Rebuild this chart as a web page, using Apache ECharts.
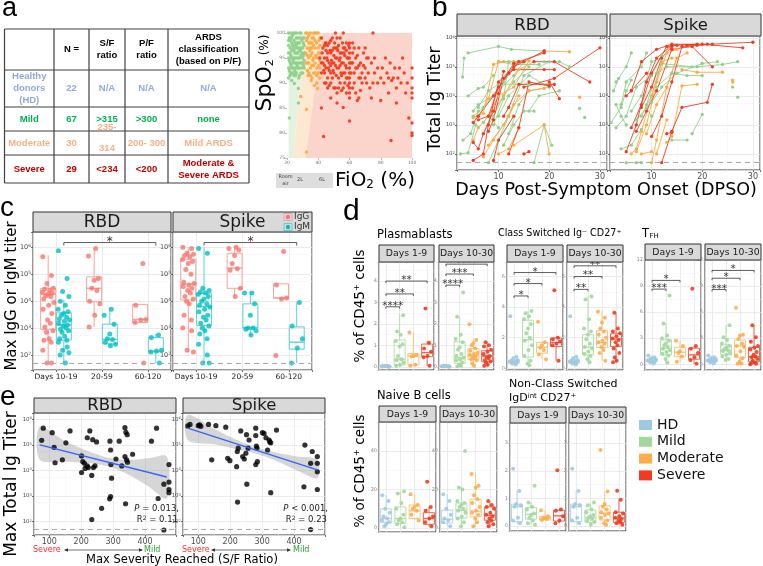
<!DOCTYPE html>
<html><head><meta charset="utf-8">
<script src="https://cdn.jsdelivr.net/npm/echarts@6/dist/echarts.min.js"></script>
<style>html,body{margin:0;padding:0;background:#fff}#c{width:763px;height:566px}</style>
</head><body><div id="c"></div><script>
// ===================== DATA =====================
// ---- panel a: table ----
const tableHeader = ['', 'N =', 'S/F\nratio', 'P/F\nratio', 'ARDS\nclassification\n(based on P/F)'];
const tableRows = [
  ['Healthy\ndonors\n(HD)', '22', 'N/A', 'N/A', 'N/A'],
  ['Mild', '67', '>315', '>300', 'none'],
  ['Moderate', '30', '235-\n314', '200- 300', 'Mild ARDS'],
  ['Severe', '29', '<234', '<200', 'Moderate &\nSevere ARDS']
];
const tableRowColors = ['#8eaadb', '#00b050', '#f4b183', '#c00000'];

// ---- panel a: SpO2 vs FiO2 ----
const sfCutoffs = [315, 235];
const spoMild = [[21,100],[22,99],[23,98],[24,97],[25,96],[26,95],[27,94],[28,93],[29,92],[30,99],[21,96],[22,94],[23,92],[24,100],[25,98],[26,97],[27,99],[28,95],[29,97],[30,94],[31,96],[21,93],[22,97],[23,95],[24,93],[25,100],[26,92],[27,96],[28,98],[29,100],[30,97],[31,99],[21,95],[22,92],[23,99],[24,95],[25,94],[26,99],[27,93],[28,100],[29,94],[30,92],[31,93],[21,91],[23,90.5],[21.5,83],[24.7,89.9],[27.3,88.9],[27.3,86],[21,97.5],[22.5,95.5],[24.5,96.5],[26.5,93.5],[28.5,96.5],[30.5,95.5],[25.5,91.5],[27.5,91],[23.5,97.5],[25,92.5],[22,98.5],[26,100],[29.5,98.5],[21.5,94.5],[23,96.5],[31,97.5],
[21.5,99],[22.5,100],[23.5,99.5],[24.5,98.5],[25.5,97.5],[26.5,98],[27.5,97],[28.5,99],[29.5,96],[30.5,98],[21.5,92.5],[22.5,93.5],[23.5,94],[24.5,91.5],[25.5,93],[26.5,96],[27.5,95],[28.5,94],[29.5,93],[30.5,93.5],[22,96],[24,94.5],[26,94],[28,96.5],[30,95],[23,93],[25,95],[27,98],[29,95.5],[31,94.5],[21,98.5],[22,91.5],[24,92],[26,97.5],[28,91.5]];
const spoMod = [[32,100],[33,99],[34,98],[35,97],[36,96],[37,95],[38,94],[39,93],[40,92],[41,99],[32,96],[33,94],[34,92],[35,100],[36,98],[37,99],[38,97],[39,100],[40,95],[41,96],[33,97],[34,95],[35,93],[36,91],[37,92],[38,100],[39,98],[40,97],[41,93],[42,99],[32.5,98.5],[34.5,96.5],[36.5,94.5],[38.5,95.5],[40.5,98.5],[33.5,91.5],[35.5,90.5],[37.5,89.5],[39.6,88.9],[28.8,87.3],[32.5,84.7],[32.5,76.2],[39,90],[41,91],[33,100],[37,97.5],[35,95.5],[40,100],
[32,94],[33,92.5],[34,99.5],[35,98],[36,93.5],[37,100],[38,92],[39,95],[40,93.5],[41,97.5],[34,94],[36,99],[38,98.5],[40,96],[33,95.5],[35,91.5],[37,93.5],[39,91.5],[41,94.5],[36,97]];
const spoSev = [[42,99],[43,97],[44,95],[45,93],[46,91],[47,98],[48,96],[49,94],[50,92],[51,97],[52,95],[53,93],[54,99],[55,96],[56,94],[57,92],[58,98],[59,95],[60,97],[60,96],[60,95],[60,94],[60,93],[60,92],[60,91],[60,90],[60,89],[60,88],[60,87],[60,98],
[43,94],[44,92],[45,98],[46,96],[47,94],[48,92],[49,99],[50,97],[51,95],[52,93],[53,91],[54,96],[55,94],[56,92],[57,97],[58,93],[59,91],[61,94],[62,96],[63,92],
[42,92],[44,90],[46,89],[48,90],[50,89],[52,88],[54,90],[56,89],[58,88],[64,95],[65,93],[66,91],[67,94],[68,92],[69,96],[70,93],[70,91],[72,92],[74,94],[75,90],
[45,96.5],[47,92.5],[49,96.5],[51,93.5],[53,97.5],[55,91.5],[57,95.5],[41,95],[62,89],[64,88],[66,87],[68,90],[71,95],[73,89],[76,92],[78,93],[80,91],[82,90],[84,92],[86,94],[88,91],[90,89],[92,93],[95,92],[97,90],
[100,93],[100,91],[100,89],[100,88],[100,87],[100,82],[100,80],[100,79.5],[98,83],
[43.4,79.3],[60,82.4],[86.6,78.5],[56,85.1],[52,86],[42,85],[48,87],[65,86.5],[74,87],[80,86.5],[85,88],[90,86],[51,100],[56,100],[75,100],[44,97.5],[46,94.5],[50,95.5],[54,93.5],[58,96.5],[62,98],[66,97],[70,97],[48,98.5],[52,99],
[42.5,96],[43.5,92.5],[44.5,98],[45.5,95],[46.5,93],[47.5,96.5],[48.5,94.5],[49.5,92.5],[50.5,98],[51.5,91.5],[52.5,96.5],[53.5,94.5],[54.5,92],[55.5,98],[56.5,96],[57.5,93.5],[58.5,95],[59.5,97.5],[61,92],[62,94],[63,97],[64,93],[65,95.5],[66,93.5],[67,91],[44,93.5],[46,97.5],[48,93.5],[50,94],[52,97],[54,95],[56,97],[58,91],[42,94],[45,90],[47,89.5],[49,91],[51,89],[53,89],[55,88.5],[57,90],[59,89.5],[63,90],[67,88.5],[69,93.5],[71,90],[72,95],[76,95],[78,90],[81,93],[83,95],[85,91],[87,90.5],[89,93],[91,91],[93,90],[94,95],[96,88]];

// ---- panel b: trajectories [day, titer] ----
const bRbdMild = [
 [[4,3e5],[10,5e5],[12.5,4e5],[19,3.5e5]], [[2.9,4.5e4],[3.2,2e5]], [[2.5,100],[4,110],[5.5,1e3]],
 [[4,1e4],[6,1.8e4],[7,2e4],[9,5e4]], [[5,2e3],[7,4e3],[11,3e4],[14,1.5e5]],
 [[6,4e3],[8,1.5e4],[10,2.5e4],[16,2.5e4],[21,2.5e4]], [[7,500],[9,2e3],[11,1e4],[13,3e4],[16,1e5]],
 [[8,50],[10,300],[12,2e3],[15,5e4],[20,1.5e5]], [[9,1e3],[11,8e3],[12,1.5e5],[14,1.5e5]],
 [[10,2e3],[12,1e4],[16,5e4],[20,2e4]], [[11,200],[13,1e3],[15,3e3],[17,3e3]],
 [[17,50],[19,1e3],[20.5,200]], [[12,500],[14,5e3],[16,1.5e4],[20,2e4]],
 [[19,1.5e5],[22,1.5e5],[24,1e5]], [[5,3e3],[6,5e3],[9,1e4],[13,5e4],[15,1.5e5]],
 [[3,300],[4.5,500],[6,3e3]], [[16,3e3],[18,1e4],[22,1.5e4]], [[10,1.5e5],[13,1.2e5],[18,1.2e5]],
 [[26,3.7e3]], [[27,1.8e3]], [[7,1.2e3],[8,2e3],[10,800]]
];
const bRbdModerate = [
 [[5,1.8e3],[7,2.5e3],[9,1.2e5],[11,1.5e5],[15,1.5e5]], [[6,2e3],[8,8e3],[10,1.5e5],[13,1.5e5]],
 [[7,80],[9,300],[12,2e3],[14,1e4]], [[5,300],[6,800],[8,2e3],[10,1e4],[13,2e4],[16,1.6e5]],
 [[8,200],[11,1e3],[13,5e3],[16,1.5e4],[19,1.8e4]], [[13,200],[19,1e3],[20,100]],
 [[19,3.5e5],[24,3.3e5]], [[10,100],[12,150],[14,800]], [[9,3e3],[11,1e4],[14,8e4],[17,1.5e5]], [[26,9e3]]
];
const bRbdSevere = [
 [[5,1.2e3],[6,2e3],[9,1e4],[13,1.3e5],[15,1.5e5]], [[5,250],[6,150],[7,500],[9,3e3],[10,1.2e4],[11,7e4]],
 [[5,60],[7,100],[8,1e3],[10,3e4],[13,1e5],[19,3.5e5]], [[6,1.5e3],[8,2e3],[10,2e4],[12,6e4],[14,1.5e5],[19,3e5]],
 [[8,600],[9,1.5e3],[11,4e4],[13,8e4],[19,8e4],[21,8e4]], [[11,2e3],[12,4e3],[14,2.5e4],[21,2.5e4]],
 [[12,100],[14,800],[16,3e4],[20,2.2e4]], [[15,100],[16,120]], [[17,1.5e5],[21,1.5e5],[28,3e4]],
 [[15,2e4],[21,4e4],[30,4.5e5]], [[20,3e4],[22,8e3]], [[9,60],[10,300],[13,2e3]]
];
const bSpikeMild = [
 [[3,5e3],[4,2e3],[5,1e3]], [[2,1.2e3],[4,4e3],[5,1.5e4],[6,3.5e4]], [[3,3e4],[5,1e5],[6,3e5]],
 [[4,5e3],[5,3e4],[8,1e5],[9,3e5]], [[3,800],[5,2e3],[7,2e4],[10,5e4],[12,2.5e5]], [[4,150],[6,200],[8,700]],
 [[5,50],[7,50],[8,50]], [[8,2e3],[10,1e4],[12,1.3e5],[18,1e5]], [[9,5e3],[11,6e4],[13,1e5],[19,1e5],[24,1.2e5],[27,1.5e5]],
 [[11,2e4],[14,6e4],[17,5e4],[20,5e4]], [[14,300],[17,300]], [[18,500],[20,2.3e3]],
 [[6,3e3],[8,1e4],[10,1.5e5],[12,2e5]], [[10,6e3],[12,2e4],[15,6e4],[20,1.3e5],[23,1.5e5]],
 [[26,2e4]], [[27,9e3]], [[2.5,1.5e4],[3.5,4e4]], [[7,1.5e3],[9,4e3],[10,2e3]]
];
const bSpikeModerate = [
 [[6,100],[7,150],[8,600],[10,1e4],[12,1.5e5],[14,2e5]], [[7,120],[9,1e3],[11,3e4],[13,3e5],[15,4e5]],
 [[10,50],[11,300],[13,2e4],[15,2e5],[17,3e5]], [[9,500],[11,5e3],[13,2e4],[15,2e5]],
 [[13,250],[14,400],[16,2.2e4],[19,2.5e4]], [[16,8e4],[19,6.5e4],[24,6.5e4]],
 [[26,3.5e4]], [[26,3e4]], [[11,100],[13,1.5e3]], [[8,100],[10,120]]
];
const bSpikeSevere = [
 [[5,120],[7,1e3],[9,3e4],[11,2e5],[14,5.5e5],[19,6e5]], [[6,800],[8,5e3],[10,6e4],[13,5e5],[15,5.5e5]],
 [[6,1.5e4],[8,1.5e5],[11,4e5],[14,6e5],[21,6e5]], [[7,600],[9,3e3],[11,1.5e4],[14,4e5]],
 [[5,1e4],[6,1.5e4],[9,6e4]], [[10,400],[12,2e3],[14,3e4],[16,5e5],[19,5.5e5],[22,6e5]],
 [[12,50],[14,600],[16,4e3],[21,6e3],[22,2.5e4]], [[13,500],[14,550]], [[20,6e5],[28,4.5e5]],
 [[14,4e5],[18,5e5],[22,1e5]], [[17,5.5e5],[30,7e5]], [[8,4e3],[10,2e4],[12,2e5],[14,5e5]]
];
const LOD = 50;

// ---- panel c ----
const cGroups = ['Days 10-19', '20-59', '60-120'];
const cRbdIgG = [[4.5e5,9e4,4.5e4,3e4,2.8e4,2.5e4,2.2e4,2e4,1.8e4,1.6e4,1.5e4,1.2e4,9e3,7e3,5e3,3.5e3,2e3,1.5e3,1.1e3,8e2,7e2,4e2,3.5e2,3e2,1.5e2,50,50],
  [9e5,4.8e5,7e4,6e4,3e4,2.5e4,1e4,8e3,3e3,1.1e3], [2.5e5,7e3,2.1e3,2e3,1.6e3,50]];
const cRbdIgM = [[7.5e5,7e4,2.3e4,1.5e4,1e4,7e3,5e3,4e3,3.5e3,3e3,2.5e3,2.2e3,2e3,1.8e3,1.5e3,1.3e3,1.2e3,1e3,900,800,700,500,400,350,300,200,150,120,100,50],
  [5e3,3e3,1.4e3,600,400,380,300,250,220], [550,450,150,140,130,50]];
const cSpikeIgG = [[1e6,9e5,6e5,5.5e5,5e5,4.5e5,3.5e5,3e5,2.5e5,1.5e5,1e5,5e4,4.5e4,4e4,3.5e4,3e4,2.5e4,2e4,1.5e4,1.2e4,1e4,8e3,3e3,2e3,1e3,800,150,130],
  [1e6,9e5,8e5,5e5,2.5e5,1.6e5,1.4e5,3e4,1.5e4], [7e5,4e4,1.3e4,1.2e4,95]];
const cSpikeIgM = [[9e5,6e5,3e4,2.5e4,2.2e4,2e4,1.8e4,1.5e4,1.2e4,1e4,8e3,7e3,6e3,5e3,4e3,3e3,2.5e3,2e3,1.5e3,1.2e3,1e3,800,600,400,250,100,50,50],
  [2e4,2e4,8e3,3e3,1e3,1e3,900,800,550], [9e3,1.2e3,400,180,50]];
// box stats: [min, q1, median, q3, max]
const cRbdIgGBox = [[50,900,1.8e4,3e4,5e5],[1.1e3,9.5e3,3e4,8e4,9e5],[1.6e3,1.6e3,2.1e3,7.6e3,7.6e3]];
const cRbdIgMBox = [[50,360,1.3e3,3.7e3,1.1e4],[215,260,380,1.4e3,5.9e3],[50,130,140,440,600]];
const cSpikeIgGBox = [[130,1.1e4,4.3e4,3.6e5,1e6],[1.5e4,3e4,1.7e5,6e5,1e6],[1.2e4,1.3e4,1.3e4,4.4e4,4.4e4]];
const cSpikeIgMBox = [[50,1.26e3,6.3e3,1.9e4,1e6],[520,1e3,1.05e3,7.9e3,2.2e4],[50,165,300,1.1e3,9e3]];
const cSig = [[1.17, 3.17, 1.5e6, '*']];

// ---- panel d ----
const dGroups = ['HD', 'Mild', 'Moderate', 'Severe'];
const pbD1 = [[0.02,0.01,0.03,0.0,0.02,0.04,0.01,0.03,0.02,0.05],[2.4,1.65,1.5,1.2,1.05,0.95,0.5,0.35,0.3,0.2,0.1,0.05],[1.6,0.55,0.5,0.48,0.1,0.05],[2.72,1.12,0.85,0.7,0.5,0.45,0.05]];
const pbD1Box = [[0,0.01,0.02,0.03,0.05],[0,0.08,0.36,1.25,2.47],[0.05,0.08,0.5,0.62,1.6],[0.05,0.47,0.66,1.06,1.17]];
const pbD1Sig = [[1,2,2.8,'****'],[1,3,3.4,'**'],[1,4,4.0,'**']];
const pbD2 = [[0.02,0.01,0.03,0.0,0.02,0.04,0.01,0.03,0.02,0.05],[3.47,2.33,1.5,1.3,1.15,0.9,0.8,0.6,0.5,0.42,0.35,0.3,0.2,0.1,0.05,0.02],[1.98,1.25,1.1,1.0,0.85,0.75,0.65,0.6,0.55,0.5,0.45,0.4,0.35,0.3,0.15,0.05],[1.15,1.0,0.95,0.8,0.7,0.6,0.5,0.45,0.4,0.3,0.25,0.2,0.1,0.05]];
const pbD2Box = [[0,0.01,0.02,0.03,0.05],[0,0.16,0.42,1.17,2.33],[0.03,0.34,0.55,0.85,1.28],[0,0.23,0.5,0.75,1.17]];
const pbD2Sig = [[1,2,3.81,'****'],[1,3,4.33,'***'],[1,4,4.79,'****']];
const csD1 = [[3.4,0.75,0.65,0.55,0.5,0.45,0.42,0.38,0.35,0.3,0.25],[3.75,3.6,3.4,3.2,2.9,2.6,2.3,2.0,1.8,1.5,1.2,0.8,0.5,0.3,0.2],[3.05,1.7,1.5,1.35,1.2,0.9,0.6],[5.1,2.0,1.9,1.75,1.6,1.5,0.5]];
const csD1Box = [[0.25,0.35,0.45,0.55,0.75],[0.2,0.73,1.87,3.14,3.75],[0.6,0.99,1.38,1.69,1.75],[0.5,1.43,1.69,1.98,2.05]];
const csD1Sig = [[1,2,4.73,'*'],[1,3,5.54,'*'],[1,4,6.26,'*']];
const csD2 = [[3.4,0.75,0.65,0.55,0.5,0.45,0.42,0.38,0.35,0.3,0.25],[4.7,4.5,3.2,2.6,2.4,2.2,1.9,1.6,1.4,1.3,1.1,0.95,0.8,0.6,0.4],[3.7,3.3,3.0,2.6,2.4,2.2,2.0,1.8,1.7,1.6,1.4,1.2,1.0,0.5],[3.64,2.6,2.4,2.3,2.1,1.95,1.85,1.7,1.5,1.3,1.0,0.7,0.5,0.4]];
const csD2Box = [[0.25,0.35,0.45,0.55,0.75],[0.4,0.88,1.38,2.2,4.7],[0.5,1.36,1.69,2.46,3.74],[0.4,1.43,1.91,2.26,3.64]];
const csD2Sig = [[1,2,5.16,'**'],[1,3,6.0,'**'],[1,4,6.7,'**']];
const tfD1 = [[1.0,0.8,0.7,0.6,0.5,0.45,0.4,0.35,0.3,0.2,0.1],[7.9,4.7,3.3,3.0,2.7,2.4,2.2,2.0,1.8,1.6,1.4,1.2,1.0,0.6,0.2],[2.7,2.1,1.5,1.3,0.9,0.3],[8.7,2.1,1.8,1.3,0.8,0.5,0.05]];
const tfD1Box = [[0.1,0.3,0.45,0.6,1.0],[0.1,1.08,1.85,2.8,4.7],[0.3,0.88,1.38,1.96,2.7],[0.05,0.58,1.08,1.85,2.1]];
const tfD1Sig = [[1,2,8.65,'***'],[1,3,9.65,'*']];
const tfD2 = [[1.0,0.8,0.7,0.6,0.5,0.45,0.4,0.35,0.3,0.2,0.1],[4.5,3.1,2.8,2.4,2.1,1.9,1.7,1.6,1.5,1.3,1.1,0.9,0.6,0.5],[6.5,3.4,3.3,2.9,2.4,2.1,2.0,1.5,1.0,0.7,0.3,0.1,0.05],[4.5,3.1,2.6,2.1,1.9,1.7,1.4,1.1,0.9,0.8,0.6,0.4,0.2,0.1,0.05,0.0]];
const tfD2Box = [[0.1,0.3,0.45,0.6,1.0],[0.5,1.08,1.65,2.23,4.5],[0.05,0.8,2.1,2.8,3.4],[0,0.3,0.88,1.96,4.5]];
const tfD2Sig = [[1,2,8.6,'***'],[1,3,9.9,'*'],[1,4,10.8,'*']];
const nbD1 = [[17,14,10,8,6,5,4,3,2,1],[19,18,13,10,7,5,4,3,2,0.5],[17.5,12,11,10,9,7,4],[24,11,9,6,5,3,1]];
const nbD1Box = [[1,3,5,10,17],[0.5,2.5,5,11,19],[4,5,9,12,17.5],[1,2,5,8,11]];
const nbD2 = [[17.5,14,10,7,5,4,3,1],[40,21,20,14,13,12,11,10,9,8,6,5,3,1],[28,22,21,17,15,13,11,9,8,7,5,3,1],[14,12,11,10,8,7,6,5,4,3,2,1]];
const nbD2Box = [[1,2.6,4.6,9.3,17.5],[1,5.2,9.3,13,21.4],[1,5.9,8.8,15,28],[1,4.1,6.7,11,14]];
const ncsD1 = [[2.07,1.27,0.8,0.75,0.7,0.3,0.2,0.1],[1.46,0.85,0.7,0.6,0.45,0.4,0.3,0.2,0.1,0.05],[0.57,0.35,0.3,0.28,0.25,0.22],[2.02,0.6,0.55,0.35,0.2,0.1]];
const ncsD1Box = [[0.1,0.16,0.7,0.79,1.27],[0.05,0.25,0.42,0.67,0.85],[0.22,0.22,0.28,0.35,0.57],[0.1,0.18,0.37,0.57,0.6]];
const ncsD2 = [[2.07,1.27,0.8,0.75,0.7,0.3,0.2,0.1],[0.85,0.75,0.6,0.5,0.4,0.35,0.3,0.25,0.2,0.15,0.05],[2.75,1.25,0.8,0.7,0.6,0.5,0.45,0.4,0.3,0.2,0.1,0.05],[1.28,0.95,0.5,0.45,0.35,0.3,0.25,0.2,0.15,0.1,0.05]];
const ncsD2Box = [[0.1,0.16,0.7,0.79,1.27],[0,0.13,0.3,0.58,0.85],[0.05,0.22,0.46,0.73,1.25],[0.05,0.13,0.28,0.5,0.95]];

// ---- panel e: [S/F ratio, max total Ig titer] ----
const eRbd = [[76,1.5e5],[81,4.5e5],[109,3e5],[115,8e4],[118,2e4],[141,2.6e4],[152,1.2e5],[165,3.5e5],[201,3.7e4],[201,8.3e3],[205,2.2e4],[210,1.9e4],[212,1.2e4],[219,1.5e4],[222,1.3e4],[219,1.9e5],[227,3.5e5],[233,6.4e3],[236,1.6e5],[238,1.3e4],[243,1.5e4],[248,1.3e5],[233,1.2e2],[264,3.3e2],[290,1.4e5],[292,6.3e4],[293,1.7e4],[295,5e3],[292,9.5e2],[289,7.8e2],[309,2.8e4],[319,1.4e5],[327,1.5e4],[337,4.7e5],[340,3.1e5],[344,2.5e5],[337,3.5e4],[342,2.6e4],[345,2.1e4],[339,5e2],[361,4.3e4],[420,1.4e5],[436,4.5e5],[441,8e2],[459,2.9e3],[459,47],[475,1.7e4],[475,3.5e3],[475,1.8e3],[475,1.35e3]];
const eSpike = [[67,5.5e5],[74,6.3e5],[100,5.6e5],[104,6e5],[108,5.3e5],[132,6.3e5],[155,5.6e5],[186,4.9e5],[142,2.6e4],[192,3e4],[199,2.4e4],[220,1.4e4],[222,5.5e4],[225,7.4e4],[233,3.5e5],[239,3.5e4],[244,2.8e4],[249,4.7e4],[251,2.5e5],[256,7.4e4],[259,1.55e5],[252,2.9e3],[223,5.8e2],[280,4.5e5],[280,2.3e5],[282,9e4],[284,7.5e4],[280,1.7e4],[285,2.2e4],[301,3e5],[306,2.8e5],[312,1.9e5],[322,1.55e5],[324,1.3e5],[327,1.2e5],[327,1.35e3],[317,6.3e4],[345,3.8e5],[434,9.8e4],[431,2.3e3],[452,1.9e4],[452,49],[457,5.5e4],[473,3.5e4],[473,1.9e4],[473,8.9e3],[473,1.8e3]];
const eRbdFit = [[70,1e5],[468,5.5e3]];
const eSpikeFit = [[67,4.5e5],[473,1.05e4]];
const eRbdBand = [[70,2.6e4,5.1e5],[150,2.2e4,1.4e5],[230,1.9e4,5.2e4],[290,1.35e4,3.1e4],[350,6.6e3,2.6e4],[410,2.4e3,3e4],[468,8e2,3.5e4]];
const eSpikeBand = [[67,1.55e5,1.48e6],[150,1.05e5,4.2e5],[230,6.3e4,1.4e5],[290,4.2e4,7.4e4],[350,2.2e4,4.8e4],[410,1e4,3.5e4],[473,5e3,2.6e4]];
const eStats = [['P = 0.013,', 'R2 = 0.11'], ['P < 0.001,', 'R2 = 0.23']];

// ===================== STYLE =====================
const FF = 'DejaVu Sans';
const TF = 'Liberation Sans';
const C_MILD = '#8fd18a', C_MOD = '#fbab45', C_SEV = '#ee3d22';
const D_COL = ['#9ecae1', '#a1d99b', '#fdae4b', '#f03b20'];
const D_BOX = ['#b3d6ea', '#b4e0ad', '#fdc383', '#f26650'];
const C_IGG = '#f8766d', C_IGM = '#00bfc4';
const JIT = [-0.9,0.55,-0.2,0.85,-0.6,0.25,-0.95,0.7,0.0,-0.4,0.45,-0.75,0.95,0.1,-0.85,0.6,-0.1,0.35,-0.55,0.8,-0.3,0.15,-0.7,0.5];

const grids = [], xAxis = [], yAxis = [], series = [], graphic = [];
function merge(a, b) {
  const o = Object.assign({}, a);
  for (const k in b) {
    if (b[k] && typeof b[k] === 'object' && !Array.isArray(b[k]) && a[k] && typeof a[k] === 'object' && !Array.isArray(a[k]) && typeof b[k] !== 'function') o[k] = merge(a[k], b[k]);
    else o[k] = b[k];
  }
  return o;
}
const stepFmt = st => v => (Math.abs(v / st - Math.round(v / st)) < 1e-6 ? String(Math.round(v * 1000) / 1000) : '');
function logFmt(v) { const l = Math.log10(v), r = Math.round(l); return Math.abs(l - r) < 1e-4 ? '{b|10}{s|' + r + '}' : ''; }
function linAxis(min, max, sn, st, o) {
  return merge({
    type: 'value', min, max, splitNumber: sn,
    axisLine: { show: false },
    axisTick: { show: true, length: 2, lineStyle: { color: '#333', width: 0.7 } },
    axisLabel: { show: true, fontSize: 8, color: '#4d4d4d', fontFamily: FF, margin: 2, formatter: stepFmt(st) },
    splitLine: { show: true, lineStyle: { color: '#e6e6e6', width: 0.8 } },
    minorTick: { show: false, splitNumber: 2 },
    minorSplitLine: { show: false, lineStyle: { color: '#f3f3f3', width: 0.5 } }
  }, o || {});
}
function logAxis(min, max, fs, o) {
  return merge({
    type: 'log', logBase: 10, min, max,
    axisLine: { show: false },
    axisTick: { show: true, length: 2, lineStyle: { color: '#333', width: 0.7 } },
    axisLabel: { show: true, color: '#4d4d4d', fontFamily: FF, margin: 2, formatter: logFmt,
      rich: { b: { fontSize: fs, color: '#4d4d4d', fontFamily: FF, verticalAlign: 'bottom' }, s: { fontSize: fs * 0.68, color: '#4d4d4d', fontFamily: FF, verticalAlign: 'top' } } },
    splitLine: { show: true, lineStyle: { color: '#e6e6e6', width: 0.8 } },
    minorTick: { show: false, splitNumber: 2 },
    minorSplitLine: { show: true, lineStyle: { color: '#f3f3f3', width: 0.5 } }
  }, o || {});
}
function addGrid(left, top, width, height, xa, ya, show) {
  const i = grids.length;
  const sh = show !== false;
  grids.push({ left, top, width, height, show: sh, borderColor: '#333', borderWidth: 1, backgroundColor: sh ? '#fff' : 'transparent', containLabel: false });
  xa.gridIndex = i; ya.gridIndex = i;
  xAxis.push(xa); yAxis.push(ya);
  return i;
}
function lodLine(y) {
  return { silent: true, symbol: 'none', animation: false, label: { show: false }, lineStyle: { color: '#ababab', type: [5, 4], width: 1 }, data: [{ yAxis: y }] };
}
function boxSeries(gi, data, stroke, halfW) {
  return { type: 'custom', xAxisIndex: gi, yAxisIndex: gi, z: 3, silent: true, data,
    renderItem: function (params, api) {
      const x = api.value(0);
      const c = d => api.coord([x, api.value(d)]);
      const pMin = c(1), pQ1 = c(2), pMed = c(3), pQ3 = c(4), pMax = c(5);
      const cx = pMin[0];
      const ls = { stroke, lineWidth: 1, fill: null };
      return { type: 'group', children: [
        { type: 'line', shape: { x1: cx, y1: pMin[1], x2: cx, y2: pQ1[1] }, style: ls },
        { type: 'line', shape: { x1: cx, y1: pQ3[1], x2: cx, y2: pMax[1] }, style: ls },
        { type: 'rect', shape: { x: cx - halfW, y: pQ3[1], width: 2 * halfW, height: Math.max(0.5, pQ1[1] - pQ3[1]) }, style: { stroke, fill: 'rgba(255,255,255,0)', lineWidth: 1 } },
        { type: 'line', shape: { x1: cx - halfW, y1: pMed[1], x2: cx + halfW, y2: pMed[1] }, style: { stroke, lineWidth: 1.4 } }
      ] };
    } };
}
function sigSeries(gi, sig, tick, fs) {
  return { type: 'custom', xAxisIndex: gi, yAxisIndex: gi, z: 6, silent: true, data: sig.map(s => [s[0], s[1], s[2]]),
    renderItem: function (params, api) {
      const p1 = api.coord([api.value(0), api.value(2)]), p2 = api.coord([api.value(1), api.value(2)]);
      return { type: 'group', children: [
        { type: 'polyline', shape: { points: [[p1[0], p1[1] + tick], [p1[0], p1[1]], [p2[0], p2[1]], [p2[0], p2[1] + tick]] }, style: { stroke: '#333', lineWidth: 0.8, fill: null } },
        { type: 'text', x: (p1[0] + p2[0]) / 2, y: p1[1] + fs * 0.45, style: { text: sig[params.dataIndex][3], fill: '#333', fontSize: fs, fontFamily: FF, align: 'center', verticalAlign: 'bottom', textAlign: 'center', textVerticalAlign: 'bottom' } }
      ] };
    } };
}
function T(x, y, text, st, extra) {
  graphic.push(Object.assign({ type: 'text', x, y, silent: true, z: 50,
    style: Object.assign({ text, fill: '#000', fontSize: 10, fontFamily: FF, align: 'center', verticalAlign: 'middle' }, st || {}) }, extra || {}));
}
function R(x, y, w, h, st) { graphic.push({ type: 'rect', silent: true, z: 40, shape: { x, y, width: w, height: h }, style: st }); }
function L(x1, y1, x2, y2, st) { graphic.push({ type: 'line', silent: true, z: 45, shape: { x1, y1, x2, y2 }, style: st }); }
function strip(x, y, w, h, text, fs) {
  R(x, y, w, h, { fill: '#d9d9d9', stroke: '#333', lineWidth: 1 });
  T(x + w / 2, y + h / 2 + 0.5, text, { fontSize: fs, fill: '#1a1a1a' });
}

// ===================== PANEL a: table =====================
const TX = [4.5, 54, 89, 125, 168, 249], TY = [29, 70, 107, 131, 155, 183];
const tbFont = { fontFamily: TF, fontWeight: 'bold', fontSize: 9.5, lineHeight: 12 };
tableHeader.forEach((h, c) => { if (h) T((TX[c] + TX[c + 1]) / 2, (TY[0] + TY[1]) / 2, h, Object.assign({}, tbFont, { lineHeight: c === 2 || c === 3 ? 12.7 : 12 })); });
tableRows.forEach((row, r) => {
  row.forEach((cell, c) => {
    let y = (TY[r + 1] + TY[r + 2]) / 2, lh = 12;
    if (r === 2 && c === 2) { y = 137.5; lh = 21; }
    T((TX[c] + TX[c + 1]) / 2, y, cell, Object.assign({}, tbFont, { fill: tableRowColors[r], lineHeight: lh }));
  });
});
TX.forEach(x => L(x, TY[0], x, TY[5], { stroke: '#404040', lineWidth: 1.2 }));
TY.forEach(y => L(TX[0], y, TX[5], y, { stroke: '#404040', lineWidth: 1.2 }));
T(2, 9, 'a', { fontSize: 27, fontFamily: TF, align: 'left' });

// ===================== PANEL a: SpO2 =====================
const gS = addGrid(287, 33, 125, 125,
  linAxis(20, 100, 4, 20, { splitLine: { show: false }, axisTick: { length: 2, lineStyle: { color: '#999' } }, axisLabel: { fontSize: 4.5, color: '#777', margin: 2 } }),
  linAxis(75, 100, 5, 5, { splitLine: { show: false }, axisTick: { length: 2, lineStyle: { color: '#999' } }, axisLabel: { fontSize: 4.5, color: '#777', margin: 2 } }), false);
const spoRegions = [
  { fill: '#e4f3e1', pts: [[21, 75], [21, 100], [100 * 100 / sfCutoffs[0], 100], [75 * 100 / sfCutoffs[0], 75]] },
  { fill: '#fde8d2', pts: [[75 * 100 / sfCutoffs[0], 75], [100 * 100 / sfCutoffs[0], 100], [100 * 100 / sfCutoffs[1], 100], [75 * 100 / sfCutoffs[1], 75]] },
  { fill: '#fbd4cb', pts: [[75 * 100 / sfCutoffs[1], 75], [100 * 100 / sfCutoffs[1], 100], [100, 100], [100, 75]] }
];
series.push({ type: 'custom', xAxisIndex: gS, yAxisIndex: gS, z: 1, silent: true, data: spoRegions.map((r, i) => [i]),
  renderItem: function (params, api) {
    const reg = spoRegions[params.dataIndex];
    return { type: 'polygon', shape: { points: reg.pts.map(p => api.coord(p)) }, style: { fill: reg.fill } };
  } });
[[spoMild, C_MILD], [spoMod, C_MOD], [spoSev, '#f23c1c']].forEach(([d, col]) => series.push({ type: 'scatter', xAxisIndex: gS, yAxisIndex: gS, data: d, symbolSize: 3.4, itemStyle: { color: col, opacity: 0.95 }, z: 3, silent: true }));
T(265, 73, '{a|SpO}{b|2}{c| (%)}', { rich: { a: { fontSize: 22, fontFamily: FF }, b: { fontSize: 11, fontFamily: FF, verticalAlign: 'bottom', padding: [0, 0, 0, 0] }, c: { fontSize: 12, fontFamily: FF } } }, { rotation: Math.PI / 2 });
T(375, 181, '{a|FiO}{b|2}{a| (%)}', { rich: { a: { fontSize: 20, fontFamily: FF }, b: { fontSize: 12, fontFamily: FF, verticalAlign: 'bottom' } } });
R(276, 173, 57, 15, { fill: '#dedede', stroke: null });
T(285.5, 176.5, 'Room', { fontSize: 5, fill: '#444' });
T(285.5, 183.5, 'air', { fontSize: 5, fill: '#444' });
T(300, 180, '2L', { fontSize: 5, fill: '#444' });
T(322, 180, '6L', { fontSize: 5, fill: '#444' });

// ===================== PANEL b =====================
const bSpecs = [
  { left: 457, w: 150, name: 'RBD', sets: [[bRbdMild, C_MILD], [bRbdModerate, C_MOD], [bRbdSevere, C_SEV]] },
  { left: 610, w: 151, name: 'Spike', sets: [[bSpikeMild, C_MILD], [bSpikeModerate, C_MOD], [bSpikeSevere, C_SEV]] }
];
bSpecs.forEach(s => {
  const gi = addGrid(s.left, 36, s.w, 134,
    linAxis(1.8, 31.4, 3, 10, { axisLabel: { fontSize: 8, color: '#4d4d4d', margin: 3 }, minorSplitLine: { show: true } }),
    logAxis(28, 1.15e6, 5.5));
  let first = true;
  s.sets.forEach(([list, col]) => list.forEach(tr => {
    const ser = { type: 'line', xAxisIndex: gi, yAxisIndex: gi, data: tr, symbol: 'circle', symbolSize: 3.3, showSymbol: true,
      lineStyle: { width: 1, color: col, opacity: 0.9 }, itemStyle: { color: col }, z: 3, silent: true };
    if (first) { ser.markLine = lodLine(LOD); first = false; }
    series.push(ser);
  }));
  strip(s.left, 14, s.w, 22, s.name, 16.5);
});
T(441, 8, 'b', { fontSize: 28, fontFamily: TF, align: 'left' }, { x: 432 });
T(436, 99, 'Total Ig Titer', { fontSize: 17 }, { rotation: Math.PI / 2 });
T(606, 190, 'Days Post-Symptom Onset (DPSO)', { fontSize: 17.5 });

// ===================== PANEL c =====================
const cSpecs = [
  { left: 33, w: 138, name: 'RBD', igg: cRbdIgG, igm: cRbdIgM, iggBox: cRbdIgGBox, igmBox: cRbdIgMBox },
  { left: 173, w: 139, name: 'Spike', igg: cSpikeIgG, igm: cSpikeIgM, iggBox: cSpikeIgGBox, igmBox: cSpikeIgMBox }
];
const cOff = 0.17;
cSpecs.forEach(s => {
  const gi = addGrid(s.left, 232, s.w, 138,
    linAxis(0.5, 3.5, 3, 1, { axisLabel: { fontSize: 7.5, color: '#1a1a1a', margin: 3, formatter: v => (Math.abs(v - Math.round(v)) < 1e-6 && cGroups[Math.round(v) - 1]) ? cGroups[Math.round(v) - 1] : '' } }),
    logAxis(27.7, 3.7e6, 6.5));
  series.push(boxSeries(gi, s.iggBox.map((b, k) => [k + 1 - cOff].concat(b)), '#f6a29b', 7.5));
  series.push(boxSeries(gi, s.igmBox.map((b, k) => [k + 1 + cOff].concat(b)), '#5cd0d3', 7.5));
  const jit = (groups, off) => [].concat(...groups.map((vals, k) => vals.map((v, i) => [k + 1 + off + JIT[(i + k * 5) % JIT.length] * 0.13, v])));
  series.push({ type: 'scatter', xAxisIndex: gi, yAxisIndex: gi, data: jit(s.igg, -cOff), symbolSize: 5, itemStyle: { color: C_IGG }, z: 4, silent: true, markLine: lodLine(LOD) });
  series.push({ type: 'scatter', xAxisIndex: gi, yAxisIndex: gi, data: jit(s.igm, cOff), symbolSize: 5, itemStyle: { color: C_IGM }, z: 4, silent: true });
  series.push(sigSeries(gi, cSig, 3, 12));
  strip(s.left, 212, s.w, 20, s.name, 17);
});
T(0, 208, 'c', { fontSize: 28, fontFamily: TF, align: 'left' });
T(12, 296, 'Max IgG or IgM titer', { fontSize: 15 }, { rotation: Math.PI / 2 });
// legend c
[[C_IGG, '#f6a29b', 'IgG', 217], [C_IGM, '#5cd0d3', 'IgM', 227]].forEach(([c, b, t, y]) => {
  R(284, y - 3.5, 8, 7, { fill: 'rgba(255,255,255,0)', stroke: b, lineWidth: 1 });
  graphic.push({ type: 'circle', silent: true, z: 46, shape: { cx: 288, cy: y, r: 2.2 }, style: { fill: c } });
  T(294, y, t, { fontSize: 9, fill: '#333', align: 'left' });
});

// ===================== PANEL d =====================
const dSpecs = [
  { l: 379, t: 262, w: 55, h: 108, sh: 17, min: -0.15, max: 4.89, sn: 5, st: 1, pts: pbD1, box: pbD1Box, sig: pbD1Sig, s: 'Days 1-9' },
  { l: 439, t: 262, w: 55, h: 108, sh: 17, min: -0.15, max: 4.89, sn: 5, st: 1, pts: pbD2, box: pbD2Box, sig: pbD2Sig, s: 'Days 10-30' },
  { l: 507, t: 262, w: 56, h: 108, sh: 17, min: -0.11, max: 6.95, sn: 4, st: 2, pts: csD1, box: csD1Box, sig: csD1Sig, s: 'Days 1-9' },
  { l: 567, t: 262, w: 56, h: 108, sh: 17, min: -0.11, max: 6.95, sn: 4, st: 2, pts: csD2, box: csD2Box, sig: csD2Sig, s: 'Days 10-30' },
  { l: 645, t: 260, w: 56, h: 110, sh: 16, min: -0.66, max: 12, sn: 4, st: 3, pts: tfD1, box: tfD1Box, sig: tfD1Sig, s: 'Days 1-9' },
  { l: 705, t: 260, w: 56, h: 110, sh: 16, min: -0.66, max: 12, sn: 4, st: 3, pts: tfD2, box: tfD2Box, sig: tfD2Sig, s: 'Days 10-30' },
  { l: 379, t: 422, w: 57, h: 110, sh: 16, min: -2, max: 55, sn: 3, st: 20, pts: nbD1, box: nbD1Box, sig: [], s: 'Days 1-9' },
  { l: 440, t: 422, w: 57, h: 110, sh: 16, min: -2, max: 55, sn: 3, st: 20, pts: nbD2, box: nbD2Box, sig: [], s: 'Days 10-30' },
  { l: 510, t: 423, w: 56, h: 108, sh: 16, min: -0.18, max: 3.73, sn: 4, st: 1, pts: ncsD1, box: ncsD1Box, sig: [], s: 'Days 1-9' },
  { l: 569, t: 423, w: 57, h: 108, sh: 16, min: -0.18, max: 3.73, sn: 4, st: 1, pts: ncsD2, box: ncsD2Box, sig: [], s: 'Days 10-30' }
];
dSpecs.forEach(s => {
  const gi = addGrid(s.l, s.t, s.w, s.h,
    linAxis(0.5, 4.5, 4, 1, { axisLabel: { show: false }, axisTick: { show: false } }),
    linAxis(s.min, s.max, s.sn, s.st, { axisLabel: { fontSize: 5, color: '#8a8a8a', margin: 2 }, axisTick: { length: 1.5, lineStyle: { color: '#999' } }, minorSplitLine: { show: true } }));
  s.box.forEach((b, k) => series.push(boxSeries(gi, [[k + 1].concat(b)], D_BOX[k], 5.5)));
  s.pts.forEach((vals, k) => series.push({ type: 'scatter', xAxisIndex: gi, yAxisIndex: gi, symbolSize: 4,
    data: vals.map((v, i) => [k + 1 + JIT[(i + k * 3) % JIT.length] * 0.3, v]), itemStyle: { color: D_COL[k], opacity: 0.9 }, z: 4, silent: true }));
  if (s.sig.length) series.push(sigSeries(gi, s.sig, 2, 10.5));
  strip(s.l, s.t - s.sh, s.w, s.sh, s.s, 9.3);
});
T(343, 212, 'd', { fontSize: 30, fontFamily: TF, align: 'left' });
T(377, 235, 'Plasmablasts', { fontSize: 11.5, align: 'left' });
T(498, 233, 'Class Switched Ig\u207B CD27\u207A', { fontSize: 9.6, align: 'left' });
T(642, 234, '{a|T}{b|FH}', { align: 'left', rich: { a: { fontSize: 11.5, fontFamily: FF }, b: { fontSize: 7, fontFamily: FF, verticalAlign: 'bottom', padding: [0, 0, 0, 0.5] } } });
T(377, 396, 'Naive B cells', { fontSize: 11.5, align: 'left' });
T(509, 384, 'Non-Class Switched', { fontSize: 11, align: 'left' });
T(509, 398.5, '{a|IgD}{b|int}{a| CD27\u207A}', { align: 'left', rich: { a: { fontSize: 11, fontFamily: FF }, b: { fontSize: 7, fontFamily: FF, verticalAlign: 'top' } } });
T(360, 306, '% of CD45\u207A cells', { fontSize: 13.5 }, { rotation: Math.PI / 2 });
T(360, 471, '% of CD45\u207A cells', { fontSize: 13.5 }, { rotation: Math.PI / 2 });
dGroups.forEach((g, k) => {
  const y = 425 + k * 16.8;
  R(639, y - 5, 13, 10, { fill: D_COL[k], stroke: null });
  T(657, y, g, { fontSize: 14, align: 'left', fill: '#111' });
});

// ===================== PANEL e =====================
const eSpecs = [
  { left: 34, w: 142, name: 'RBD', pts: eRbd, fit: eRbdFit, band: eRbdBand, st: eStats[0], sx: 33, ax: [65, 142], mx: 144 },
  { left: 183, w: 142, name: 'Spike', pts: eSpike, fit: eSpikeFit, band: eSpikeBand, st: eStats[1], sx: 182, ax: [212, 290], mx: 293 }
];
eSpecs.forEach(s => {
  const gi = addGrid(s.left, 413, s.w, 122,
    linAxis(52, 497, 4, 100, { axisLabel: { fontSize: 8, color: '#4d4d4d', margin: 3 }, minorSplitLine: { show: true } }),
    logAxis(30, 1.76e6, 5.5));
  const band = s.band;
  series.push({ type: 'custom', xAxisIndex: gi, yAxisIndex: gi, z: 2, silent: true, data: band,
    renderItem: function (params, api) {
      if (params.dataIndex !== 0) return;
      const up = band.map(b => api.coord([b[0], b[2]]));
      const lo = band.map(b => api.coord([b[0], b[1]])).reverse();
      return { type: 'polygon', shape: { points: up.concat(lo), smooth: 0.3 }, style: { fill: 'rgba(153,153,153,0.4)' } };
    } });
  series.push({ type: 'scatter', xAxisIndex: gi, yAxisIndex: gi, data: s.pts, symbolSize: 5.2, itemStyle: { color: '#000' }, z: 3, silent: true, markLine: lodLine(LOD) });
  series.push({ type: 'line', xAxisIndex: gi, yAxisIndex: gi, data: s.fit, showSymbol: false, symbol: 'none', lineStyle: { color: '#3366ff', width: 1.5 }, z: 4, silent: true });
  strip(s.left, 398, s.w, 15, s.name, 16.5);
  const right = s.left + s.w + 3;
  T(right, 509, '{i|' + s.st[0][0] + '}{n|' + s.st[0].slice(1) + '}', { align: 'right', rich: { i: { fontSize: 8.5, fontStyle: 'italic', fontFamily: FF, fill: '#222' }, n: { fontSize: 8.5, fontFamily: FF, fill: '#222' } } });
  T(right - 1, 520, '{n|R}{s|2}{n|' + s.st[1].slice(2) + '}', { align: 'right', rich: { n: { fontSize: 8.5, fontFamily: FF, fill: '#222' }, s: { fontSize: 6, fontFamily: FF, verticalAlign: 'top', fill: '#222' } } });
  T(s.sx, 550, 'Severe', { fontSize: 8, fill: '#ff2a2a', align: 'left' });
  T(s.mx, 550, 'Mild', { fontSize: 8, fill: '#2ca02c', align: 'left' });
  L(s.ax[0], 550, s.ax[1], 550, { stroke: '#333', lineWidth: 0.7 });
  graphic.push({ type: 'polygon', silent: true, z: 46, shape: { points: [[s.ax[0] - 1, 550], [s.ax[0] + 3, 548.3], [s.ax[0] + 3, 551.7]] }, style: { fill: '#333' } });
  graphic.push({ type: 'polygon', silent: true, z: 46, shape: { points: [[s.ax[1] + 1, 550], [s.ax[1] - 3, 548.3], [s.ax[1] - 3, 551.7]] }, style: { fill: '#333' } });
});
T(0, 397, 'e', { fontSize: 28, fontFamily: TF, align: 'left' });
T(12, 484, 'Max Total Ig Titer', { fontSize: 17 }, { rotation: Math.PI / 2 });
T(182, 560, 'Max Severity Reached (S/F Ratio)', { fontSize: 11.5 });

// ===================== RENDER =====================
const chart = echarts.init(document.getElementById('c'), null, { renderer: 'canvas' });
chart.setOption({
  animation: false,
  backgroundColor: '#fff',
  textStyle: { fontFamily: FF },
  grid: grids, xAxis, yAxis, series,
  graphic: { elements: graphic }
});
</script></body></html>
